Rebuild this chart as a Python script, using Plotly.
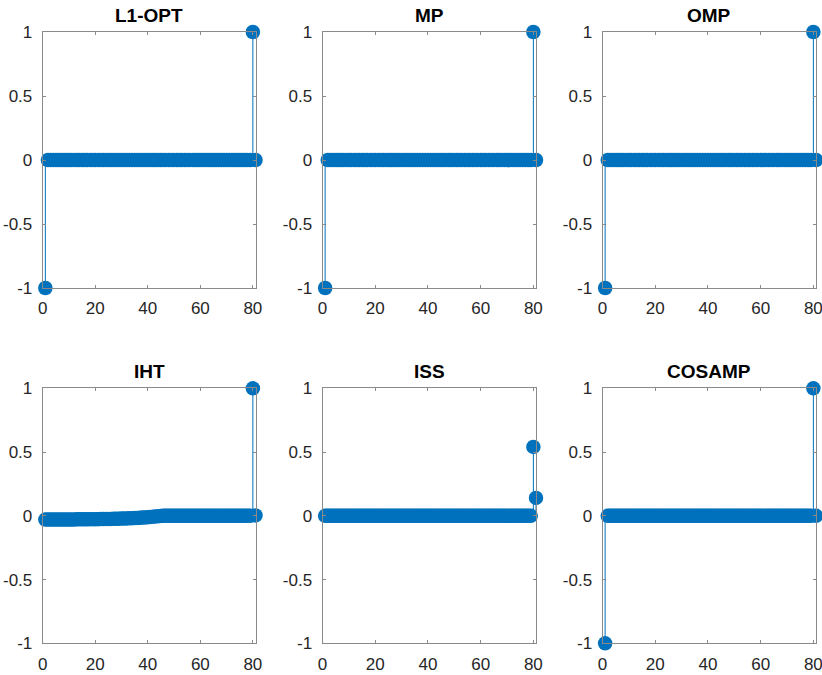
import plotly.graph_objects as go

W, H = 822, 675
BLUE = "#0072BD"
FONT = "Liberation Sans, Arial, Helvetica"

titles = ["L1-OPT", "MP", "OMP", "IHT", "ISS", "COSAMP"]
n_points = 81
idx = list(range(1, n_points + 1))

l1opt = [-1.0] + [0.0] * 78 + [1.0, 0.0]
mp = [-1.0] + [0.0] * 78 + [1.0, 0.0]
omp = [-1.0] + [0.0] * 78 + [1.0, 0.0]
cosamp = [-1.0] + [0.0] * 78 + [1.0, 0.0]
iht = [-0.030, -0.030, -0.030, -0.030, -0.030, -0.030, -0.029, -0.029, -0.029, -0.029,
       -0.029, -0.029, -0.028, -0.028, -0.028, -0.028, -0.028, -0.027, -0.027, -0.027,
       -0.027, -0.026, -0.026, -0.026, -0.025, -0.025, -0.024, -0.024, -0.023, -0.022,
       -0.022, -0.021, -0.020, -0.019, -0.018, -0.017, -0.016, -0.014, -0.013, -0.011,
       -0.009, -0.007, -0.005, -0.003, -0.001, 0.000, 0.000, 0.000, 0.000, 0.000,
       0.000, 0.000, 0.000, 0.000, 0.000, 0.000, 0.000, 0.000, 0.000, 0.000,
       0.000, 0.000, 0.000, 0.000, 0.000, 0.000, 0.000, 0.000, 0.000, 0.000,
       0.000, 0.000, 0.000, 0.000, 0.000, 0.000, 0.000, 0.000, 0.000, 1.000,
       0.003]
iss = [0.0] * 79 + [0.54, 0.14]

series = [l1opt, mp, omp, iht, iss, cosamp]

x_ticks = [0, 20, 40, 60, 80]
y_ticks = [-1, -0.5, 0, 0.5, 1]
y_tick_text = ["-1", "-0.5", "0", "0.5", "1"]

# panel pixel boxes (left, right) and (top, bottom)
cols_px = [(42.7, 255.5), (322.5, 536.0), (602.5, 816.0)]
rows_px = [(32.0, 288.0), (388.3, 643.3)]

fig = go.Figure()
annotations = []
for k, (title, vals) in enumerate(zip(titles, series)):
    r, c = divmod(k, 3)
    xa = "x" if k == 0 else f"x{k+1}"
    ya = "y" if k == 0 else f"y{k+1}"
    sx, sy = [], []
    for xi, yi in zip(idx, vals):
        sx += [xi, xi, None]
        sy += [0, yi, None]
    fig.add_trace(go.Scatter(x=sx, y=sy, mode="lines", line=dict(color=BLUE, width=1),
                             xaxis=xa, yaxis=ya, showlegend=False, hoverinfo="skip",
                             cliponaxis=False))
    fig.add_trace(go.Scatter(x=idx, y=vals, mode="markers",
                             marker=dict(color=BLUE, size=14.5, line=dict(width=0)),
                             xaxis=xa, yaxis=ya, showlegend=False, cliponaxis=False))
    l, rr = cols_px[c]
    t, b = rows_px[r]
    axis_common = dict(showgrid=False, zeroline=False, showline=True, linecolor="#8a8a8a",
                       linewidth=1, mirror="ticks", ticks="inside", ticklen=3,
                       tickcolor="#8a8a8a", tickwidth=1, automargin=False,
                       ticklabeloverflow="allow",
                       tickfont=dict(family=FONT, size=17, color="#262626"))
    fig.layout[("xaxis" if k == 0 else f"xaxis{k+1}")] = dict(
        domain=[l / W, rr / W], range=[0, 81], tickvals=x_ticks,
        anchor=ya, ticklabelstandoff=5, **axis_common)
    fig.layout[("yaxis" if k == 0 else f"yaxis{k+1}")] = dict(
        domain=[1 - b / H, 1 - t / H], range=[-1, 1], tickvals=y_ticks,
        ticktext=y_tick_text, anchor=xa, ticklabelstandoff=6, **axis_common)
    annotations.append(dict(text=f"<b>{title}</b>", x=(l + rr) / 2 / W, y=1 - (t - 4) / H,
                            xref="paper", yref="paper", xanchor="center", yanchor="bottom",
                            showarrow=False,
                            font=dict(family=FONT, size=19, color="#000000")))

fig.update_layout(template="none", width=W, height=H, margin=dict(l=0, r=0, t=0, b=0, pad=0),
                  paper_bgcolor="white", plot_bgcolor="white",
                  annotations=annotations)
fig.write_html("out.html", config={"displayModeBar": False},
               post_script="document.body.style.margin='0';document.body.style.overflow='hidden';")
